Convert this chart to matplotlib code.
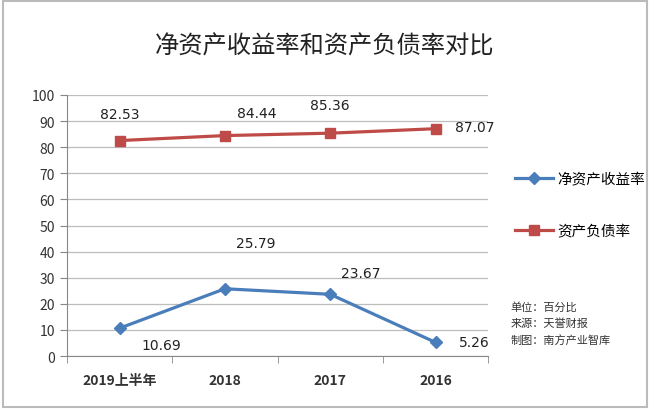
import matplotlib
matplotlib.use("Agg")
from matplotlib import pyplot as plt
from matplotlib.patches import Rectangle

plt.rcParams['font.family'] = ['Noto Sans CJK SC', 'DejaVu Sans']

categories = ['2019上半年', '2018', '2017', '2016']
roe = [10.69, 25.79, 23.67, 5.26]
debt_ratio = [82.53, 84.44, 85.36, 87.07]
series_names = ['净资产收益率', '资产负债率']
note_lines = ['单位：百分比', '来源：天誉财报', '制图：南方产业智库']

# label offsets in points (dx, dy) relative to each marker
roe_offsets = [(30, -12), (22, 33), (22, 15), (28, 0)]
debt_offsets = [(0, 19), (23, 16), (0, 20), (28, 1)]

blue = '#4a7ebb'
red = '#be4b48'

fig = plt.figure(figsize=(6.5, 4.1), dpi=100)
ax = fig.add_axes([0.103, 0.129, 0.648, 0.637])

x = range(len(categories))
l1, = ax.plot(x, roe, color=blue, lw=2.3, marker='D', ms=6)
l2, = ax.plot(x, debt_ratio, color=red, lw=2.3, marker='s', ms=7)

for i, v in enumerate(roe):
    ax.annotate('%.2f' % v, (i, v), xytext=roe_offsets[i], textcoords='offset points',
                ha='center', va='center', fontsize=10, color='#222222', family='DejaVu Sans')
for i, v in enumerate(debt_ratio):
    ax.annotate('%.2f' % v, (i, v), xytext=debt_offsets[i], textcoords='offset points',
                ha='center', va='center', fontsize=10, color='#222222', family='DejaVu Sans')

ax.set_xlim(-0.5, len(categories) - 0.5)
ax.set_ylim(0, 100)
ax.set_yticks(range(0, 101, 10))
ax.set_xticks(list(x))
ax.set_xticklabels(categories, fontsize=10, fontweight='bold', color='#333333')
ax.set_xticks([i + 0.5 for i in range(-1, len(categories))], minor=True)
ax.tick_params(axis='x', which='major', length=0, pad=12)
ax.tick_params(axis='x', which='minor', length=5, color='#888888')
ax.tick_params(axis='y', length=5, color='#888888', labelsize=10, labelcolor='#333333')
ax.grid(axis='y', color='#bdbdbd', lw=0.9)
ax.set_axisbelow(True)
for side in ['top', 'right']:
    ax.spines[side].set_visible(False)
ax.spines['left'].set_color('#888888')
ax.spines['bottom'].set_color('#888888')

fig.text(0.5, 0.887, '净资产收益率和资产负债率对比', ha='center', va='center', fontsize=17.5, color='#222222')

fig.legend([l1, l2], series_names, loc='upper left', bbox_to_anchor=(0.772, 0.61),
           frameon=False, labelspacing=2.6, handlelength=2.6, fontsize=10.5, handletextpad=0.3)

for k, line in enumerate(note_lines):
    fig.text(0.785, 0.25 - k * 0.04, line, fontsize=8, color='#333333', va='center')

fig.patches.append(Rectangle((0.004, 0.005), 0.992, 0.99, transform=fig.transFigure,
                             fill=False, ec='#bbbbbb', lw=1.5))

plt.savefig('out.png', dpi=100)
